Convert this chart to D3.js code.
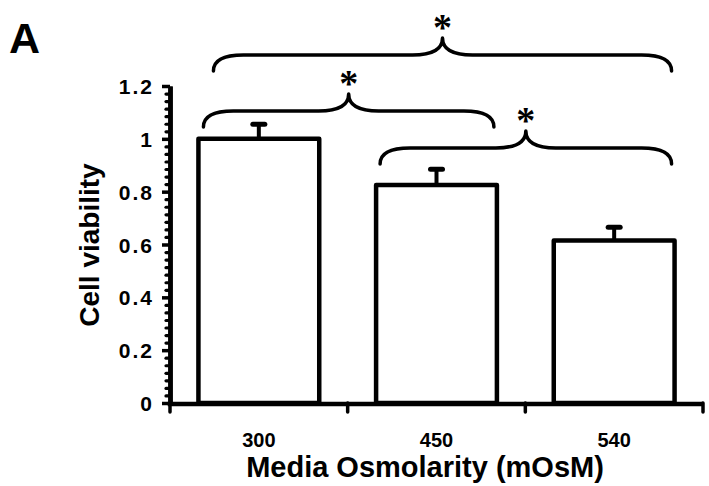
<!DOCTYPE html>
<html>
<head>
<meta charset="utf-8">
<script src="https://cdn.jsdelivr.net/npm/d3@7"></script>
<style>
  html, body { margin: 0; padding: 0; background: #fff; }
  svg { display: block; }
</style>
</head>
<body>
<svg id="chart" width="709" height="486"></svg>
<script>
// ---------- data ----------
const categories = ["300", "450", "540"];
const means = [1.0, 0.825, 0.615];
const errors = [0.055, 0.06, 0.05];
const yTickValues = [0, 0.2, 0.4, 0.6, 0.8, 1, 1.2];
const yTickLabels = ["0", "0.2", "0.4", "0.6", "0.8", "1", "1.2"];
const minorPerMajor = 7;
// significance braces (category index spans, level of brace ends in data units)
const braceFrom = [0, 0, 1];
const braceTo = [2, 1, 2];
const braceLevel = [1.257, 1.045, 0.905];
const braceLabels = ["*", "*", "*"];
const panelLabel = "A";
const xTitle = "Media Osmolarity (mOsM)";
const yTitle = "Cell viability";

// ---------- layout ----------
const svg = d3.select("#chart");
const axisX0 = 170, axisX1 = 703;
const y = d3.scaleLinear().domain([0, 1.2]).range([403, 86]);
const x = d3.scaleBand().domain(categories).range([axisX0, axisX1])
  .paddingInner(0.32).paddingOuter(0.16);
const ink = "#000";
const axisW = 4.5;
const sans = "'Liberation Sans', Arial, Helvetica, sans-serif";

// bars
const bars = categories.map((c, i) => ({ c, m: means[i], e: errors[i] }));

// error bars (upper only)
const eb = svg.append("g");
bars.forEach(d => {
  const cx = x(d.c) + x.bandwidth() / 2;
  eb.append("line")
    .attr("x1", cx).attr("x2", cx)
    .attr("y1", y(d.m)).attr("y2", y(d.m + d.e))
    .attr("stroke", ink).attr("stroke-width", 4);
  eb.append("line")
    .attr("x1", cx - 6).attr("x2", cx + 6)
    .attr("y1", y(d.m + d.e)).attr("y2", y(d.m + d.e))
    .attr("stroke", ink).attr("stroke-width", 5).attr("stroke-linecap", "round");
});

svg.append("g").selectAll("rect").data(bars).join("rect")
  .attr("x", d => x(d.c))
  .attr("width", x.bandwidth())
  .attr("y", d => y(d.m))
  .attr("height", d => y(0) - y(d.m))
  .attr("fill", "#fff")
  .attr("stroke", ink)
  .attr("stroke-width", 4.5)
  .attr("stroke-linejoin", "round");

// ---------- y axis ----------
const minorTicks = [];
for (let i = 0; i < yTickValues.length - 1; i++) {
  const a = yTickValues[i], b = yTickValues[i + 1];
  for (let k = 1; k < minorPerMajor; k++) minorTicks.push(a + (b - a) * k / minorPerMajor);
}
const gy = svg.append("g").attr("transform", `translate(${axisX0},0)`);
gy.call(d3.axisLeft(y).tickValues(minorTicks).tickSize(4).tickSizeOuter(0).tickFormat(""));
gy.call(g => g.selectAll(".tick line").attr("stroke-width", 3.2).attr("stroke-linecap", "round"));
const gyMaj = svg.append("g").attr("transform", `translate(${axisX0},0)`);
gyMaj.call(d3.axisLeft(y).tickValues(yTickValues).tickSize(8).tickSizeOuter(0)
  .tickFormat((d, i) => yTickLabels[i]));
[gy, gyMaj].forEach(g => {
  g.select(".domain").attr("stroke", ink).attr("stroke-width", axisW);
  g.selectAll(".tick line").attr("stroke", ink);
});
gyMaj.selectAll(".tick line").attr("stroke-width", 3.5);
gyMaj.selectAll(".tick text")
  .attr("x", -16)
  .attr("dy", "0.36em")
  .attr("fill", ink)
  .style("font-family", sans)
  .style("font-weight", "bold")
  .style("font-size", "21px")
  .style("letter-spacing", "2px");

// ---------- x axis ----------
const gx = svg.append("g");
gx.append("line")
  .attr("x1", axisX0 - axisW / 2).attr("x2", axisX1)
  .attr("y1", y(0) + 1).attr("y2", y(0) + 1)
  .attr("stroke", ink).attr("stroke-width", axisW);
const step = x.step();
const boundaries = categories.map(c => x(c) + x.bandwidth() / 2 - step / 2)
  .concat([axisX1]);
gx.selectAll("line.xt").data(boundaries).join("line")
  .attr("class", "xt")
  .attr("x1", d => d).attr("x2", d => d)
  .attr("y1", y(0)).attr("y2", y(0) + 9)
  .attr("stroke", ink).attr("stroke-width", 3.5).attr("stroke-linecap", "round");
gx.selectAll("text").data(categories).join("text")
  .attr("x", d => x(d) + x.bandwidth() / 2)
  .attr("y", 447)
  .attr("text-anchor", "middle")
  .attr("fill", ink)
  .style("font-family", sans)
  .style("font-weight", "bold")
  .style("font-size", "20px")
  .text(d => d);

// ---------- titles ----------
svg.append("text")
  .attr("x", 425).attr("y", 477)
  .attr("text-anchor", "middle")
  .style("font-family", sans)
  .style("font-weight", "bold").style("font-size", "29px")
  .text(xTitle);
svg.append("text")
  .attr("transform", "translate(99,245) rotate(-90)")
  .attr("text-anchor", "middle")
  .style("font-family", sans)
  .style("font-weight", "bold").style("font-size", "28px")
  .text(yTitle);
svg.append("text")
  .attr("x", 9).attr("y", 53)
  .style("font-family", sans)
  .style("font-weight", "bold").style("font-size", "43px")
  .text(panelLabel);

// ---------- braces ----------
const insetL = [15, 5, 4], insetR = [3, 3, 3];
const drop = 16, rise = 17, rEnd = 30, rTip = 30;
braceFrom.forEach((f, i) => {
  const x1 = x(categories[f]) + insetL[i];
  const x2 = x(categories[braceTo[i]]) + x.bandwidth() - insetR[i];
  const xm = (x1 + x2) / 2;
  const yE = y(braceLevel[i]);
  const yH = yE - drop;
  const yT = yH - rise;
  const p = d3.path();
  p.moveTo(x1, yE);
  p.quadraticCurveTo(x1, yH, x1 + rEnd, yH);
  p.lineTo(xm - rTip, yH);
  p.quadraticCurveTo(xm, yH, xm, yT);
  p.quadraticCurveTo(xm, yH, xm + rTip, yH);
  p.lineTo(x2 - rEnd, yH);
  p.quadraticCurveTo(x2, yH, x2, yE);
  svg.append("path").attr("d", p.toString())
    .attr("fill", "none").attr("stroke", ink).attr("stroke-width", 3.5)
    .attr("stroke-linecap", "round").attr("stroke-linejoin", "round");
  svg.append("text")
    .attr("x", xm).attr("y", yT + 2)
    .attr("text-anchor", "middle")
    .style("font-family", "'Liberation Serif', 'Times New Roman', serif")
    .style("font-weight", "bold")
    .style("font-size", "38px")
    .text(braceLabels[i]);
});
</script>
</body>
</html>
